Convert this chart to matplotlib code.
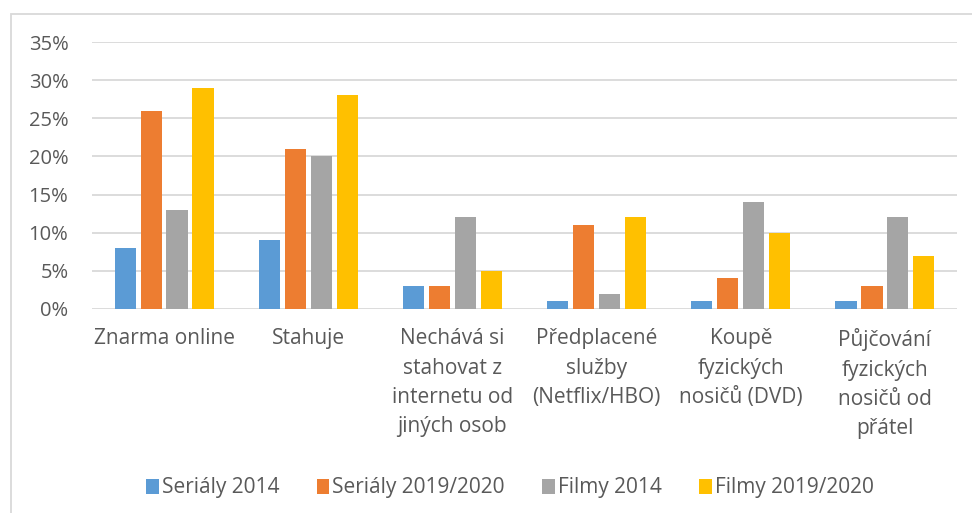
import matplotlib.pyplot as plt
from matplotlib.patches import Rectangle
from matplotlib.ticker import PercentFormatter
import numpy as np

categories = ['Znarma online', 'Stahuje', 'Nechává si\nstahovat z\ninternetu od\njiných osob',
              'Předplacené\nslužby\n(Netflix/HBO)', 'Koupě\nfyzických\nnosičů (DVD)',
              'Půjčování\nfyzických\nnosičů od\npřátel']
series_names = ['Seriály 2014', 'Seriály 2019/2020', 'Filmy 2014', 'Filmy 2019/2020']
serialy_2014 = [8, 9, 3, 1, 1, 1]
serialy_2020 = [26, 21, 3, 11, 4, 3]
filmy_2014 = [13, 20, 12, 2, 14, 12]
filmy_2020 = [29, 28, 5, 12, 10, 7]
colors = ['#5B9BD5', '#ED7D31', '#A5A5A5', '#FFC000']

plt.rcParams['font.family'] = ['Open Sans', 'DejaVu Sans']
text_color = '#595959'

W, H = 972, 513
fig = plt.figure(figsize=(W / 100, H / 100), dpi=100)
ax = fig.add_axes([92 / W, 1 - 309 / H, (957 - 92) / W, (309 - 42) / H])

x = np.arange(len(categories))
step = 0.18
width = 0.147
for k, (vals, name) in enumerate(zip([serialy_2014, serialy_2020, filmy_2014, filmy_2020], series_names)):
    ax.bar(x + (k - 1.5) * step, vals, width, color=colors[k], label=name, zorder=3)

ax.set_xlim(-0.5, len(categories) - 0.5)
ax.set_ylim(0, 35)
ax.set_yticks(np.arange(0, 36, 5))
ax.yaxis.set_major_formatter(PercentFormatter(decimals=0))
ax.grid(axis='y', color='#D9D9D9', linewidth=1.3, zorder=0)
for s in ax.spines.values():
    s.set_visible(False)
ax.tick_params(axis='y', length=0, labelsize=14.5, labelcolor=text_color, pad=17)
ax.set_xticks(x)
ax.set_xticklabels(categories, linespacing=1.52)
ax.tick_params(axis='x', length=0, labelsize=15, labelcolor=text_color, pad=14)

leg = fig.legend(loc='center', bbox_to_anchor=(510 / W, 1 - 488 / H), ncol=4, frameon=False,
                 fontsize=15, handlelength=0.6, handleheight=0.75, handletextpad=0.15,
                 columnspacing=1.8, labelcolor=text_color)

fig.patches.append(Rectangle((10.5 / W, -0.1), 1.2, 1 - 13.5 / H + 0.1, transform=fig.transFigure,
                             fill=False, edgecolor='#D9D9D9', linewidth=1.3))

fig.savefig('out.png', dpi=100)
